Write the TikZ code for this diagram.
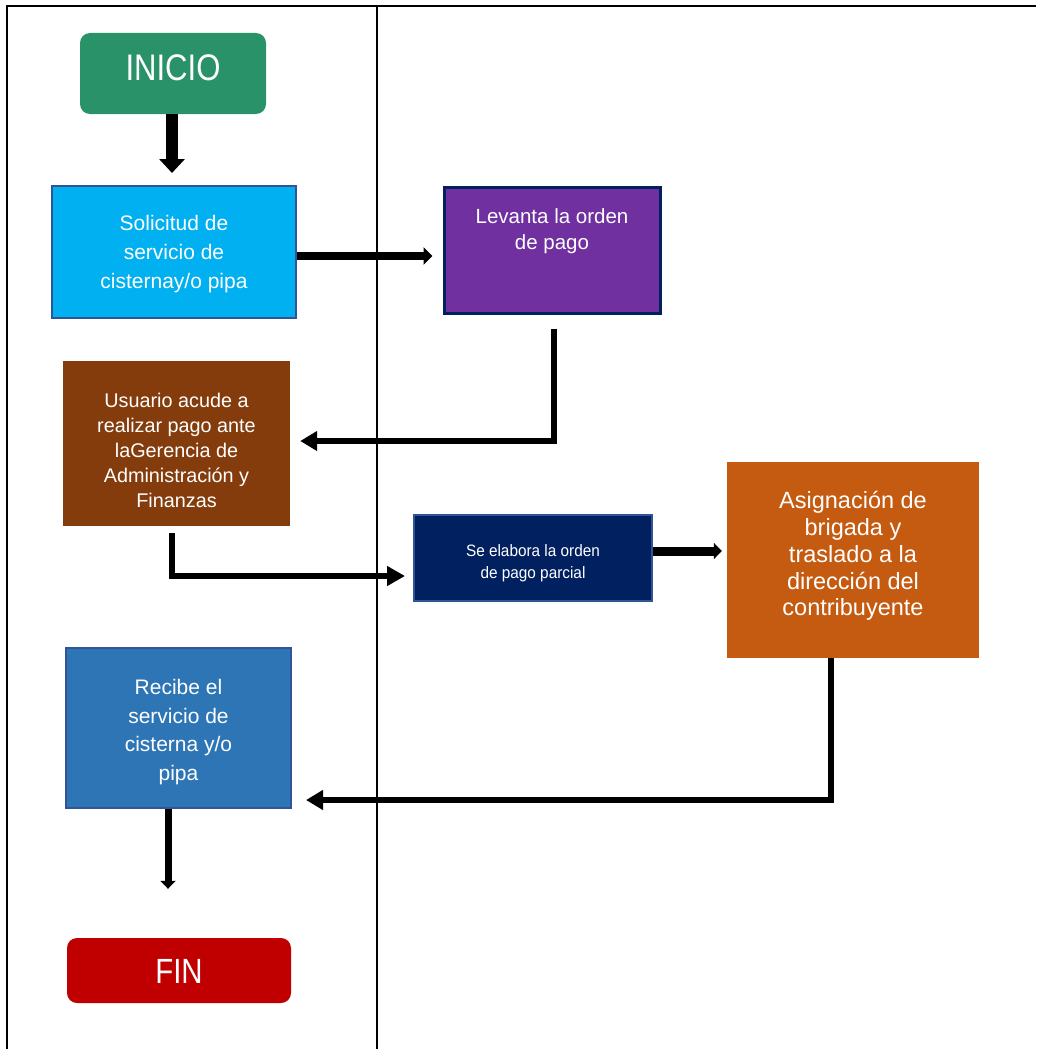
\documentclass[tikz,border=0pt]{standalone}
\usepackage{fontspec}
\setmainfont{Liberation Sans}
\newfontfamily\narrowA{Liberation Sans}[FakeStretch=0.84]
\newfontfamily\narrowB{Liberation Sans}[FakeStretch=0.93]
\usetikzlibrary{arrows.meta}

\definecolor{cInicio}{RGB}{42,146,105}
\definecolor{cSolic}{RGB}{0,176,240}
\definecolor{cEdge}{RGB}{47,85,151}
\definecolor{cPurple}{RGB}{112,48,160}
\definecolor{cNavy}{RGB}{0,32,96}
\definecolor{cBrown}{RGB}{132,60,12}
\definecolor{cOrange}{RGB}{197,90,17}
\definecolor{cBlue}{RGB}{46,117,182}
\definecolor{cFin}{RGB}{192,0,0}

\begin{document}
\begin{tikzpicture}[x=1pt,y=-1pt,
  box/.style={rectangle, inner sep=0pt},
  terminal/.style={box, rounded corners=10pt},
  conn/.style={draw=black, line join=miter, line cap=butt},
  lbl/.style={inner sep=0pt, text=white, align=center}
]
\useasboundingbox (0,0) rectangle (1036,1049);
\fill[white] (0,0) rectangle (1036,1049);

% frame and lane divider
\draw[line width=2.5pt] (7,1049) -- (7,6) -- (1036,6);
\draw[line width=2pt] (377,6) -- (377,1049);

% process steps (boxes)
\node[terminal, fill=cInicio, minimum width=186pt, minimum height=81pt] (inicio) at (173,73.5) {};
\node[box, fill=cSolic, draw=cEdge, line width=2pt, minimum width=244pt, minimum height=132pt]
      (solicitud) at (174,252) {};
\node[box, fill=cPurple, draw=cNavy, line width=3pt, minimum width=216pt, minimum height=126pt]
      (levanta) at (552,250) {};
\node[box, fill=cBrown, minimum width=227pt, minimum height=165pt] (usuario) at (176.5,443.5) {};
\node[box, fill=cNavy, draw=cEdge, line width=2pt, minimum width=238pt, minimum height=86pt]
      (selabora) at (533,558) {};
\node[box, fill=cOrange, minimum width=252pt, minimum height=196pt] (asignacion) at (853,560) {};
\node[box, fill=cBlue, draw=cEdge, line width=2pt, minimum width=225pt, minimum height=160pt]
      (recibe) at (178.5,728) {};
\node[terminal, fill=cFin, minimum width=224pt, minimum height=65pt] (fin) at (179,970.5) {};

% step texts
\node[lbl, font=\narrowA\fontsize{37}{40}\selectfont] (inicioText) at (173,67.5) {INICIO};
\node[lbl, font=\fontsize{21}{29}\selectfont] (solicitudText) at (174,254.5)
      {Solicitud de\\servicio de\\cisternay/o pipa};
\node[lbl, font=\fontsize{20.5}{26}\selectfont] (levantaText) at (552,231)
      {Levanta la orden\\de pago};
\node[lbl, font=\fontsize{19.8}{25.2}\selectfont] (usuarioText) at (176.5,450.5)
      {Usuario acude a\\realizar pago ante\\laGerencia de\\Administración y\\Finanzas};
\node[lbl, font=\narrowB\fontsize{16.5}{22}\selectfont] (selaboraText) at (533,563)
      {Se elabora la orden\\de pago parcial};
\node[lbl, font=\fontsize{23.5}{26.8}\selectfont] (asignacionText) at (853,556)
      {Asignación de\\brigada y\\traslado a la\\dirección del\\contribuyente};
\node[lbl, font=\fontsize{21}{28.7}\selectfont] (recibeText) at (178.5,732)
      {Recibe el\\servicio de\\cisterna y/o\\pipa};
\node[lbl, font=\narrowA\fontsize{35}{38}\selectfont] (finText) at (179,971) {FIN};

% connectors
\draw[conn, line width=12pt, -{Triangle[length=14pt,width=25pt]}, shorten >=12pt]
  ([xshift=-1pt]inicio.south) -- ([xshift=-1pt]inicio.south |- solicitud.north);

\draw[conn, line width=8pt, -{Triangle[length=9pt,width=17pt]}, shorten >=10pt]
  ([yshift=-4pt]solicitud.east) -- ([yshift=-4pt]solicitud.east -| levanta.west);

\draw[conn, line width=6pt, -{Triangle[length=17pt,width=19pt]}]
  ([xshift=2pt,yshift=-14pt]levanta.south) |- ([xshift=10pt,yshift=2.5pt]usuario.east);

\draw[conn, line width=6pt, -{Triangle[length=18pt,width=19pt]}]
  ([xshift=-4.5pt,yshift=-7pt]usuario.south) |- ([xshift=-8pt,yshift=-18pt]selabora.west);

\draw[conn, line width=9pt, -{Triangle[length=8pt,width=16pt]}, shorten >=5pt]
  ([yshift=7pt]selabora.east) -- ([yshift=7pt]selabora.east -| asignacion.west);

\draw[conn, line width=6pt, -{Triangle[length=17pt,width=19pt]}]
  ([xshift=-22pt]asignacion.south) |- ([xshift=14pt,yshift=-72pt]recibe.east);

\draw[conn, line width=7pt, -{Triangle[length=8pt,width=15pt]}, shorten >=49pt]
  ([xshift=-10.5pt]recibe.south) -- ([xshift=-10.5pt]recibe.south |- fin.north);

\end{tikzpicture}
\end{document}
